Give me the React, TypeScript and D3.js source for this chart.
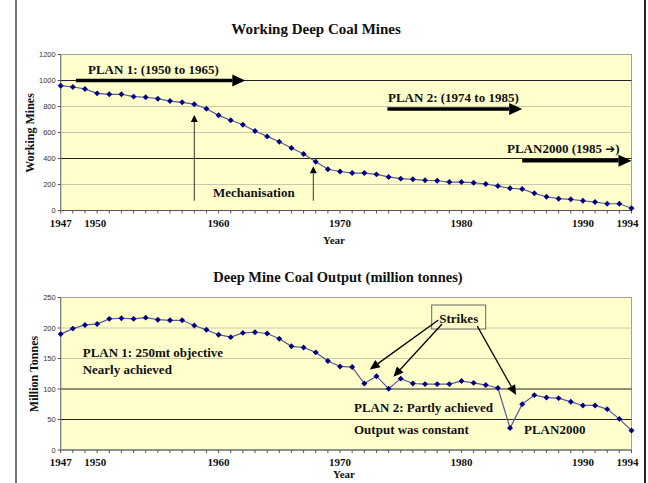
import React from "react";
import * as d3 from "d3";

const years = [1947,1948,1949,1950,1951,1952,1953,1954,1955,1956,1957,1958,1959,1960,1961,1962,1963,1964,1965,1966,1967,1968,1969,1970,1971,1972,1973,1974,1975,1976,1977,1978,1979,1980,1981,1982,1983,1984,1985,1986,1987,1988,1989,1990,1991,1992,1993,1994];
const mines = [960,950,935,901,894,894,876,871,860,842,832,818,783,732,694,660,611,570,529,481,435,375,317,300,288,288,278,258,245,240,232,229,219,219,214,204,188,171,165,132,106,91,86,75,65,52,52,17];
const output = [190,199,205,206.5,215,216,215,217,213.6,212.6,212.6,204,197,189,185,192,193,191,182.5,170,168,160,146,137,136,109,121,100.5,117,109,108,108,108,113,110,106.5,101.6,36,75,90,86,85,79,73,73,67,51,32];
const xTickLabels = [1947,1950,1960,1970,1980,1990,1994];
const minesTicks = [0,200,400,600,800,1000,1200];
const outputTicks = [0,50,100,150,200,250];
const minesDark = [400,1000];
const outputDark = [50,100];

const serif = "'Liberation Serif', 'Times New Roman', serif";
const sans = "'Liberation Sans', Arial, sans-serif";

const X0 = 60.7, X1 = 631.5;

function Arrow({ x1, y1, x2, y2, w = 1, head = 8, hw = 4 }: any) {
  const ang = Math.atan2(y2 - y1, x2 - x1);
  const bx = x2 - head * Math.cos(ang), by = y2 - head * Math.sin(ang);
  const px = -Math.sin(ang) * hw, py = Math.cos(ang) * hw;
  return (
    <g>
      <line x1={x1} y1={y1} x2={bx} y2={by} stroke="#000" strokeWidth={w} />
      <polygon points={`${x2},${y2} ${bx + px},${by + py} ${bx - px},${by - py}`} fill="#000" />
    </g>
  );
}

function Panel({ values, ticks, dark, yMax, top, bottom }: any) {
  const x = d3.scaleLinear().domain([1947, 1994]).range([X0, X1]);
  const y = d3.scaleLinear().domain([0, yMax]).range([bottom, top]);
  const line = d3.line<number>().x((_, i) => x(years[i])).y((d) => y(d));
  return (
    <g>
      <rect x={X0} y={top} width={X1 - X0} height={bottom - top} fill="#ffffcc" stroke="#a0a0a0" strokeWidth={1} />
      {ticks.filter((t: number) => t > 0 && t < yMax).map((t: number) => (
        <line key={t} x1={X0} x2={X1} y1={y(t)} y2={y(t)} stroke={dark.includes(t) ? "#222" : "#c8c8b0"} strokeWidth={1} />
      ))}
      <line x1={X0} x2={X1} y1={bottom} y2={bottom} stroke="#555" />
      <line x1={X0} x2={X0} y1={top} y2={bottom} stroke="#777" />
      {ticks.map((t: number) => (
        <g key={t}>
          <line x1={X0 - 3} x2={X0} y1={y(t)} y2={y(t)} stroke="#555" />
          <text x={X0 - 5} y={y(t) + 2.8} fontSize={7.5} fontFamily={sans} textAnchor="end" fill="#333">{t}</text>
        </g>
      ))}
      {years.map((yr) => (
        <line key={yr} x1={x(yr)} x2={x(yr)} y1={bottom} y2={bottom + 3} stroke="#555" />
      ))}
      {xTickLabels.map((yr) => (
        <text key={yr} x={x(yr) - (yr === 1994 ? 4 : yr === 1950 ? 2 : 0)} y={bottom + 16} fontSize={11} fontWeight="bold" fontFamily={serif} textAnchor="middle" fill="#111">{yr}</text>
      ))}
      <path d={line(values) || ""} fill="none" stroke="#5a5a96" strokeWidth={1.2} />
      {values.map((v: number, i: number) => (
        <rect key={i} x={-2.1} y={-2.1} width={4.2} height={4.2} fill="#000080" transform={`translate(${x(years[i])},${y(v)}) rotate(45)`} />
      ))}
    </g>
  );
}

export default function App() {
  const x = d3.scaleLinear().domain([1947, 1994]).range([X0, X1]);
  const yA = d3.scaleLinear().domain([0, 1200]).range([210.5, 54.5]);
  const yB = d3.scaleLinear().domain([0, 250]).range([450, 297.5]);
  const bold = { fontFamily: serif, fontWeight: "bold" as const, fill: "#111" };
  return (
    <svg width={648} height={483} style={{ position: "absolute", left: 0, top: 0, background: "#fff" }}>
      <line x1={16} x2={16} y1={0} y2={483} stroke="#777" strokeWidth={2} />
      <line x1={645} x2={645} y1={0} y2={483} stroke="#222" strokeWidth={2} />

      <text x={316} y={34} fontSize={15} textAnchor="middle" {...bold}>Working Deep Coal Mines</text>
      <Panel values={mines} ticks={minesTicks} dark={minesDark} yMax={1200} top={54.5} bottom={210.5} />
      <text transform="translate(34,133) rotate(-90)" fontSize={12} textAnchor="middle" {...bold}>Working Mines</text>
      <text x={334} y={244} fontSize={11} textAnchor="middle" {...bold}>Year</text>

      <text x={88} y={74} fontSize={13} {...bold}>PLAN 1: (1950 to 1965)</text>
      <Arrow x1={x(1948.25)} y1={yA(1000)} x2={x(1962.2)} y2={yA(1000)} w={3.5} head={13} hw={6} />
      <text x={388} y={102} fontSize={13} {...bold}>PLAN 2: (1974 to 1985)</text>
      <Arrow x1={x(1973.9)} y1={yA(780)} x2={x(1985)} y2={yA(780)} w={3.5} head={13} hw={6} />
      <text x={507} y={153} fontSize={13} {...bold}>PLAN2000 (1985 <tspan fontFamily="'DejaVu Sans', sans-serif" fontSize={12}>➔</tspan>)</text>
      <Arrow x1={x(1985)} y1={yA(383)} x2={X1} y2={yA(383)} w={3.5} head={13} hw={6} />
      <text x={213} y={197} fontSize={13} {...bold}>Mechanisation</text>
      <Arrow x1={x(1958)} y1={yA(75)} x2={x(1958)} y2={yA(735)} w={0.8} head={7} hw={3.5} />
      <Arrow x1={x(1967.8)} y1={yA(75)} x2={x(1967.8)} y2={yA(340)} w={0.8} head={7} hw={3.5} />

      <text x={338} y={282} fontSize={14.5} textAnchor="middle" {...bold}>Deep Mine Coal Output (million tonnes)</text>
      <Panel values={output} ticks={outputTicks} dark={outputDark} yMax={250} top={297.5} bottom={450} />
      <text transform="translate(38,374) rotate(-90)" fontSize={12} textAnchor="middle" {...bold}>Million Tonnes</text>
      <text x={344} y={478} fontSize={11} textAnchor="middle" {...bold}>Year</text>

      <text x={82.7} y={357} fontSize={13} {...bold}>PLAN 1: 250mt objective</text>
      <text x={82.7} y={374} fontSize={13} {...bold}>Nearly achieved</text>
      <text x={354} y={412} fontSize={13} {...bold}>PLAN 2: Partly achieved</text>
      <text x={354} y={434} fontSize={13} {...bold}>Output was constant</text>
      <text x={524} y={434} fontSize={13} {...bold}>PLAN2000</text>
      <rect x={431.7} y={305} width={54} height={24} fill="#ffffcc" stroke="#666" strokeWidth={1} />
      <text x={458.7} y={322.5} fontSize={13} textAnchor="middle" {...bold}>Strikes</text>
      <Arrow x1={x(1978.1)} y1={yB(213)} x2={x(1972.45)} y2={yB(132)} w={1.3} head={10} hw={4.5} />
      <Arrow x1={x(1978.4)} y1={yB(206.6)} x2={x(1974.4)} y2={yB(120)} w={1.3} head={10} hw={4.5} />
      <Arrow x1={x(1981.3)} y1={yB(203)} x2={x(1984.5)} y2={yB(90)} w={1.3} head={10} hw={4.5} />
    </svg>
  );
}
